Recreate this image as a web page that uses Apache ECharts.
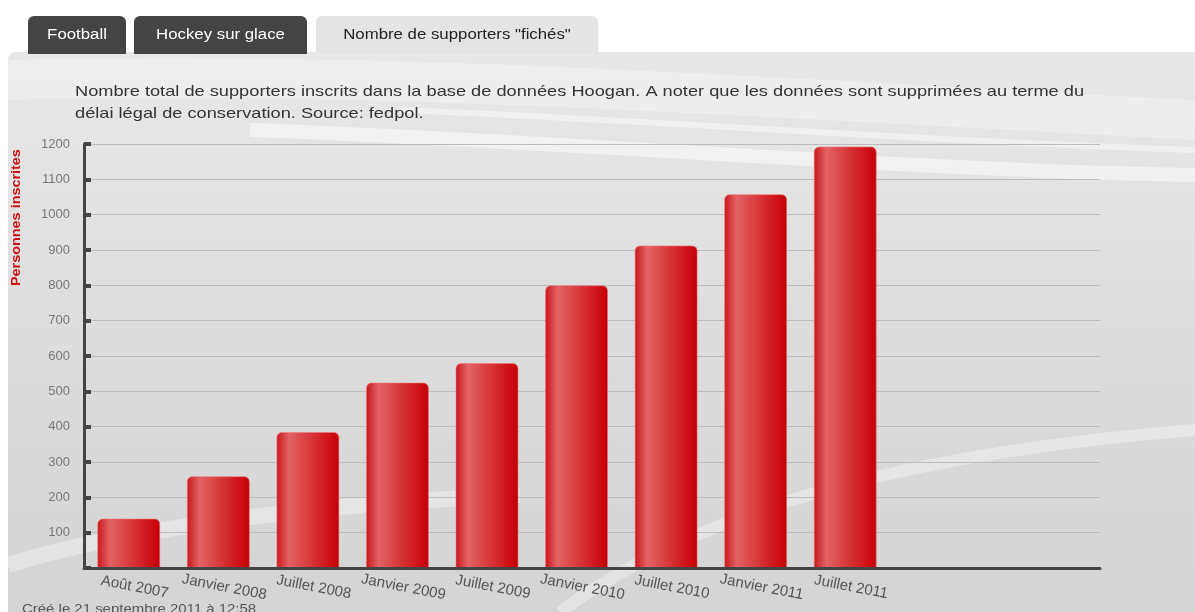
<!DOCTYPE html>
<html>
<head>
<meta charset="utf-8">
<script src="https://cdn.jsdelivr.net/npm/echarts@6/dist/echarts.min.js"></script>
<style>
html, body { margin: 0; padding: 0; background: #fff; }
#chart { width: 1195px; height: 612px; }
</style>
</head>
<body>
<div id="chart"></div>
<script>
// categories et valeurs
var periodes = ['Août 2007', 'Janvier 2008', 'Juillet 2008', 'Janvier 2009', 'Juillet 2009',
    'Janvier 2010', 'Juillet 2010', 'Janvier 2011', 'Juillet 2011'];
var inscrits = [140, 260, 385, 525, 580, 800, 913, 1058, 1193];
var onglets = ['Football', 'Hockey sur glace', 'Nombre de supporters "fichés"'];

var police = '"Liberation Sans", Arial, sans-serif';
var chart = echarts.init(document.getElementById('chart'));

// dégradé des barres (effet cylindre)
var barColor = new echarts.graphic.LinearGradient(0, 0, 1, 0, [
    { offset: 0, color: '#c9141a' },
    { offset: 0.2, color: '#e26466' },
    { offset: 0.55, color: '#d63638' },
    { offset: 0.9, color: '#cc0910' },
    { offset: 1, color: '#bf0008' }
]);

// fond du panneau
var panelBg = new echarts.graphic.LinearGradient(0, 0, 0, 1, [
    { offset: 0, color: '#e8e8e8' },
    { offset: 0.5, color: '#dcdcdc' },
    { offset: 1, color: '#d3d3d3' }
]);

var tabRects = [
    { x: 28, w: 98, fill: '#444444', color: '#ffffff' },
    { x: 134, w: 173, fill: '#444444', color: '#ffffff' },
    { x: 316, w: 282, fill: '#e4e4e4', color: '#222222' }
];

// courbe blanche décorative
function swoosh(p, width, alpha) {
    return {
        type: 'bezierCurve', z: -9, silent: true,
        shape: { x1: p[0], y1: p[1], cpx1: p[2], cpy1: p[3], cpx2: p[4], cpy2: p[5], x2: p[6], y2: p[7] },
        style: { stroke: 'rgba(255,255,255,' + alpha + ')', lineWidth: width, fill: null }
    };
}

var graphics = [
    {
        type: 'rect', z: -10, silent: true,
        shape: { x: 8, y: 52, width: 1200, height: 600, r: [8, 0, 0, 0] },
        style: { fill: panelBg }
    },
    swoosh([8, 80, 400, 70, 800, 100, 1195, 120], 40, 0.3),
    swoosh([250, 130, 550, 140, 900, 170, 1195, 175], 14, 0.5),
    swoosh([400, 110, 650, 120, 900, 140, 1195, 150], 6, 0.45),
    swoosh([560, 612, 720, 495, 950, 450, 1195, 430], 12, 0.35),
    swoosh([8, 565, 120, 530, 300, 505, 520, 495], 16, 0.35),
    {
        type: 'text', z: 10, x: 22, y: 603, scaleX: 1.15,
        style: { text: 'Créé le 21 septembre 2011 à 12:58', fill: '#555', font: '13px ' + police }
    },
    {
        type: 'text', z: 10, x: 11, y: 286, rotation: Math.PI / 2, scaleX: 1.2,
        style: { text: 'Personnes inscrites', fill: '#cc1111', font: 'bold 12px ' + police }
    },
    {
        type: 'text', z: 10, x: 75, y: 81, scaleX: 1.215,
        style: {
            text: 'Nombre total de supporters inscrits dans la base de données Hoogan. A noter que les données sont supprimées au terme du\ndélai légal de conservation. Source: fedpol.',
            fill: '#333', font: '15px ' + police, lineHeight: 22
        }
    }
];

onglets.forEach(function (nom, i) {
    var t = tabRects[i];
    graphics.push({
        type: 'rect', z: -8, silent: true,
        shape: { x: t.x, y: 16, width: t.w, height: 38, r: [6, 6, 0, 0] },
        style: { fill: t.fill }
    });
    graphics.push({
        type: 'text', z: 10, silent: true,
        x: t.x + t.w / 2, y: 35, scaleX: 1.2,
        style: { text: nom, fill: t.color, font: '14px ' + police, align: 'center', verticalAlign: 'middle' }
    });
});

var option = {
    animation: false,
    backgroundColor: '#ffffff',
    graphic: graphics,
    grid: [
        { left: 84, right: 95, top: 144, bottom: 44 },
        { left: 84, width: 806, top: 144, bottom: 44 }
    ],
    xAxis: [
        {
            type: 'value', gridIndex: 0, min: 0, max: 1, z: 5,
            axisLine: { show: true, lineStyle: { color: '#444', width: 3 } },
            axisTick: { show: false }, axisLabel: { show: false }, splitLine: { show: false }
        },
        {
            type: 'category', gridIndex: 1, data: periodes,
            axisLine: { show: false }, axisTick: { show: false },
            axisLabel: {
                rotate: -11, align: 'center', margin: 18, interval: 0,
                padding: [0, 0, 0, 12],
                color: '#555', fontSize: 15, fontFamily: police
            }
        }
    ],
    yAxis: [
        {
            type: 'value', gridIndex: 0, min: 0, max: 1200, interval: 100,
            axisLine: { show: true, lineStyle: { color: '#444', width: 3 } },
            axisTick: { show: true, inside: true, length: 7, lineStyle: { color: '#444', width: 4 } },
            axisLabel: {
                color: '#777', fontSize: 13, margin: 14, fontFamily: police,
                formatter: function (v) { return v === 0 ? '' : v; }
            },
            splitLine: { show: true, lineStyle: { color: '#bcbcbc', width: 1 } }
        },
        {
            type: 'value', gridIndex: 1, min: 0, max: 1200, show: false
        }
    ],
    series: [{
        name: 'Personnes inscrites',
        type: 'bar',
        xAxisIndex: 1, yAxisIndex: 1,
        barWidth: 63,
        data: inscrits,
        itemStyle: {
            color: barColor,
            borderRadius: [5, 5, 0, 0],
            borderColor: 'rgba(240,120,120,0.6)',
            borderWidth: 1
        }
    }]
};

chart.setOption(option);
</script>
</body>
</html>
